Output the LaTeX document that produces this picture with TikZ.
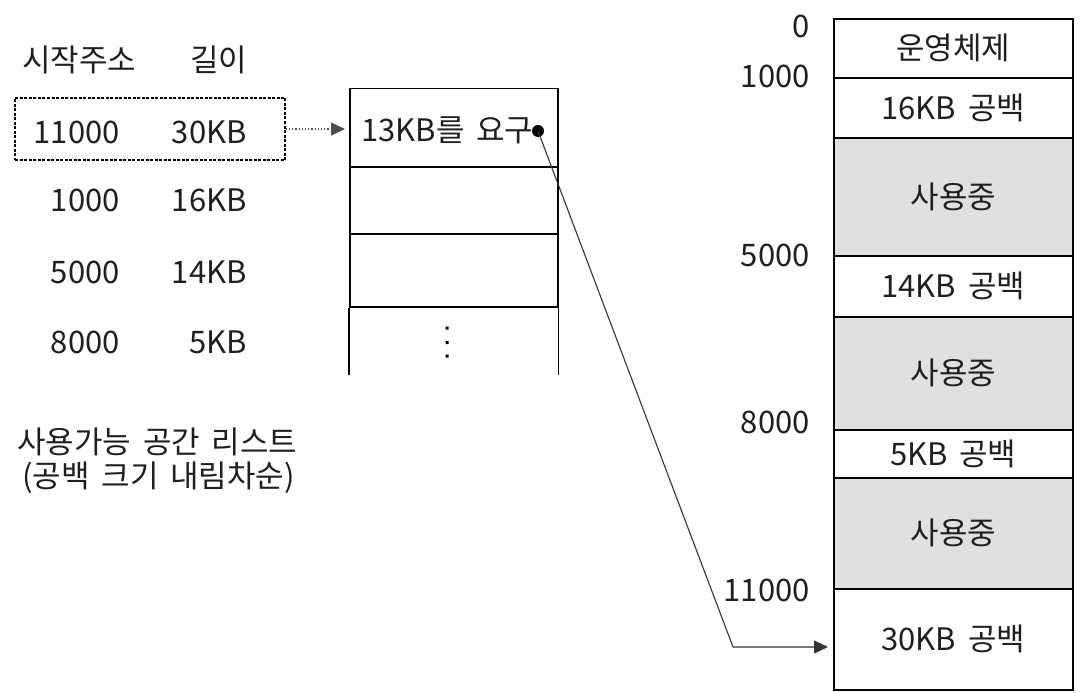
\documentclass[tikz,border=0pt]{standalone}
\usepackage{fontspec}
\setmainfont[WordSpace=1.7]{Noto Sans CJK KR}
\usetikzlibrary{arrows.meta}
\begin{document}
\begin{tikzpicture}[x=1pt,y=-1pt,
  txt/.style={font=\fontsize{31}{34}\selectfont, inner sep=0pt, text=black!88},
  memblk/.style={draw, line width=1.6pt, minimum width=239pt, anchor=north west, inner sep=0pt, font=\fontsize{31}{34}\selectfont, text=black!88},
  used/.style={memblk, fill=black!12},
  cell/.style={draw, line width=1.5pt, minimum width=208pt, anchor=north west, inner sep=0pt},
  tip/.style={-{Triangle[length=14pt,width=13pt]}}
]
\useasboundingbox (0,0) rectangle (1082,693);

% memory map
\node[memblk, minimum height=59pt]  (m0) at (833,18)  {운영체제};
\node[memblk, minimum height=60pt]  (m1) at (833,77)  {16KB 공백};
\node[used,   minimum height=118pt] (m2) at (833,137) {사용중};
\node[memblk, minimum height=61pt]  (m3) at (833,255) {14KB 공백};
\node[used,   minimum height=113pt] (m4) at (833,316) {사용중};
\node[memblk, minimum height=48pt]  (m5) at (833,429) {5KB 공백};
\node[used,   minimum height=111pt] (m6) at (833,477) {사용중};
\node[memblk, minimum height=101pt] (m7) at (833,588) {30KB 공백};

% addresses
\node[txt, anchor=east] (a0)  at (810,26)  {0};
\node[txt, anchor=east] (a1)  at (810,76)  {1000};
\node[txt, anchor=east] (a5)  at (810,255) {5000};
\node[txt, anchor=east] (a8)  at (810,422) {8000};
\node[txt, anchor=east] (a11) at (810,590) {11000};

% free list table
\node[txt, anchor=west] (h1) at (22,60)  {시작주소};
\node[txt, anchor=west] (h2) at (190,60) {길이};
\node[draw, line width=1.5pt, dash pattern=on 3pt off 1.5pt, minimum width=270pt, minimum height=62pt, inner sep=0pt] (sel) at (150,129) {};
\node[txt, anchor=east] (r1a) at (120,132) {11000};
\node[txt, anchor=east] (r1b) at (247,132) {30KB};
\node[txt, anchor=east] (r2a) at (120,200) {1000};
\node[txt, anchor=east] (r2b) at (247,200) {16KB};
\node[txt, anchor=east] (r3a) at (120,272) {5000};
\node[txt, anchor=east] (r3b) at (247,272) {14KB};
\node[txt, anchor=east] (r4a) at (120,342) {8000};
\node[txt, anchor=east] (r4b) at (247,342) {5KB};

\node[txt, anchor=west] (cap1) at (17,442) {사용가능 공간 리스트};
\node[txt, anchor=west] (cap2) at (22,478) {(공백 크기 내림차순)};

% request stack
\node[cell, minimum height=78pt] (c0) at (349,88)  {};
\node[cell, minimum height=67pt] (c1) at (349,166) {};
\node[cell, minimum height=73pt] (c2) at (349,233) {};
\draw[line width=1.5pt] (c2.south west) -- ++(0,67);
\draw[line width=1.5pt] (c2.south east) -- ++(0,67);
\fill (445.5,326.5) rectangle ++(3,3) (445.5,341) rectangle ++(3,3) (445.5,354.5) rectangle ++(3,3);
\node[txt, anchor=west] (req) at (361,130) {13KB를 요구};
\node[circle, fill=black, inner sep=0pt, minimum size=12pt] (dot) at (538,131) {};

% connectors
\draw[dotted, line width=1.2pt, black!70, tip, shorten >=4pt] (sel.east) -- (c0.west |- sel.east);
\coordinate (bend) at (733,647);
\draw[line width=1.1pt, black!80, tip, shorten >=5pt] (dot.center) -- (bend) -- (bend -| m7.west);
\end{tikzpicture}
\end{document}
